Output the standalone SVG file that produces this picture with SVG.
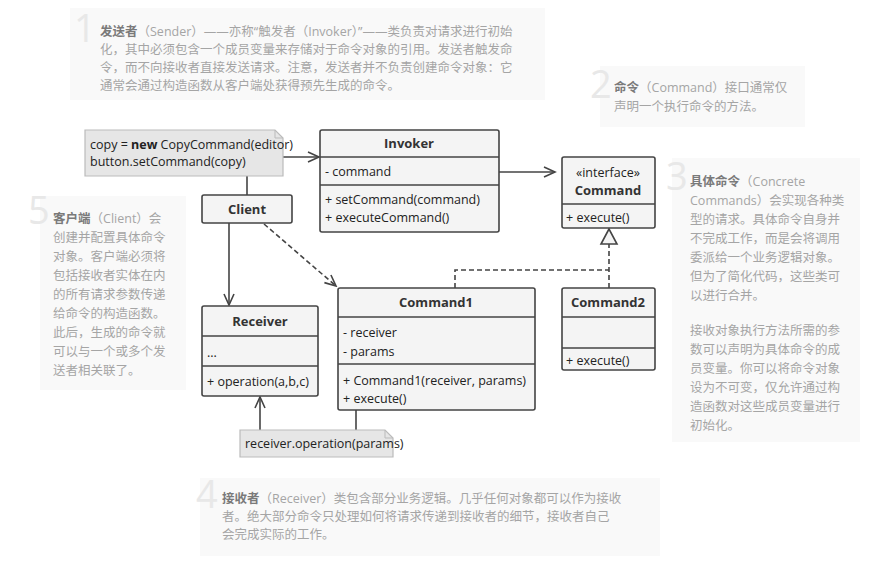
<svg xmlns="http://www.w3.org/2000/svg" width="892" height="567" viewBox="0 0 892 567">
<style>
.bg{fill:#f9f9f9}
.num{font-family:"Open Sans",sans-serif;font-size:38px;fill:#e8e8e8}
.n{font-family:"Open Sans","Noto Sans CJK SC",sans-serif;font-size:12.5px;fill:#a5a5a5}
.nb{font-weight:bold;fill:#7a7a7a}
.box{fill:#f4f4f4;stroke:#444;stroke-width:1.6}
.ln{stroke:#444;stroke-width:1.6;fill:none}
.t{font-family:"Open Sans",sans-serif;font-size:12.5px;fill:#222}
.h{font-family:"Open Sans",sans-serif;font-size:13px;font-weight:bold;fill:#333;text-anchor:middle}
.note{fill:#e6e6e6;stroke:#bbb;stroke-width:1.2}
.d{stroke-dasharray:5,3}
</style>
<defs>
<marker id="a" markerWidth="14" markerHeight="12" refX="12" refY="6" orient="auto" markerUnits="userSpaceOnUse"><path d="M1,1 L12,6 L1,11" fill="none" stroke="#444" stroke-width="1.6"/></marker>
</defs>
<g id="note1"><rect class="bg" x="70" y="8" width="475" height="92"/><text class="num" x="74" y="42">1</text>
<text class="n"><tspan x="100" y="36"><tspan class="nb">发送者</tspan>（Sender）——亦称“触发者（Invoker）”——类负责对请求进行初始</tspan><tspan x="100" y="54">化，其中必须包含一个成员变量来存储对于命令对象的引用。发送者触发命</tspan><tspan x="100" y="72">令，而不向接收者直接发送请求。注意，发送者并不负责创建命令对象：它</tspan><tspan x="100" y="90">通常会通过构造函数从客户端处获得预先生成的命令。</tspan></text></g>
<g id="note2"><rect class="bg" x="600" y="66" width="205" height="61"/><text class="num" x="590" y="98">2</text>
<text class="n"><tspan x="614" y="92"><tspan class="nb">命令</tspan>（Command）接口通常仅</tspan><tspan x="614" y="111">声明一个执行命令的方法。</tspan></text></g>
<g id="note3"><rect class="bg" x="672" y="158" width="188" height="284"/><text class="num" x="666" y="190">3</text>
<text class="n"><tspan x="690" y="186"><tspan class="nb">具体命令</tspan>（Concrete</tspan><tspan x="690" y="205">Commands）会实现各种类</tspan><tspan x="690" y="224">型的请求。具体命令自身并</tspan><tspan x="690" y="243">不完成工作，而是会将调用</tspan><tspan x="690" y="262">委派给一个业务逻辑对象。</tspan><tspan x="690" y="281">但为了简化代码，这些类可</tspan><tspan x="690" y="300">以进行合并。</tspan><tspan x="690" y="335">接收对象执行方法所需的参</tspan><tspan x="690" y="354">数可以声明为具体命令的成</tspan><tspan x="690" y="373">员变量。你可以将命令对象</tspan><tspan x="690" y="392">设为不可变，仅允许通过构</tspan><tspan x="690" y="411">造函数对这些成员变量进行</tspan><tspan x="690" y="430">初始化。</tspan></text></g>
<g id="note5"><rect class="bg" x="40" y="196" width="146" height="194"/><text class="num" x="28" y="224">5</text>
<text class="n"><tspan x="53" y="223"><tspan class="nb">客户端</tspan>（Client）会</tspan><tspan x="53" y="242">创建并配置具体命令</tspan><tspan x="53" y="261">对象。客户端必须将</tspan><tspan x="53" y="280">包括接收者实体在内</tspan><tspan x="53" y="299">的所有请求参数传递</tspan><tspan x="53" y="318">给命令的构造函数。</tspan><tspan x="53" y="337">此后，生成的命令就</tspan><tspan x="53" y="356">可以与一个或多个发</tspan><tspan x="53" y="375">送者相关联了。</tspan></text></g>
<g id="note4"><rect class="bg" x="200" y="478" width="460" height="78"/><text class="num" x="196" y="508">4</text>
<text class="n"><tspan x="222" y="503"><tspan class="nb">接收者</tspan>（Receiver）类包含部分业务逻辑。几乎任何对象都可以作为接收</tspan><tspan x="222" y="521">者。绝大部分命令只处理如何将请求传递到接收者的细节，接收者自己</tspan><tspan x="222" y="539">会完成实际的工作。</tspan></text></g>

<g id="connectors">
<line class="ln" x1="283" y1="157" x2="319" y2="157" marker-end="url(#a)"/>
<line class="ln" x1="247" y1="176" x2="247" y2="195"/>
<line class="ln" x1="499" y1="172" x2="555" y2="172" marker-end="url(#a)"/>
<line class="ln" x1="229" y1="222" x2="229" y2="305" marker-end="url(#a)"/>
<line class="ln d" x1="264" y1="224" x2="336" y2="286" marker-end="url(#a)"/>
<line class="ln" x1="356" y1="410" x2="356" y2="430"/>
<line class="ln" x1="260" y1="430" x2="260" y2="397" marker-end="url(#a)"/>
<polyline class="ln d" points="455,288 455,270 609,270"/>
<line class="ln d" x1="609" y1="288" x2="609" y2="244"/>
<path d="M609,229 L601,244 L617,244 Z" fill="#f4f4f4" stroke="#444" stroke-width="1.6"/>
</g>

<g id="copyNote"><path class="note" d="M85,130 H275 L283,138 V176 H85 Z"/><path d="M275,130 V138 H283" fill="none" stroke="#bbb"/>
<text class="t" x="90" y="149" font-size="12">copy = <tspan font-weight="bold">new</tspan> CopyCommand(editor)</text><text class="t" x="90" y="166" font-size="12">button.setCommand(copy)</text></g>
<g id="invoker"><rect class="box" x="320" y="130" width="179" height="102" rx="2"/><line class="ln" x1="320" y1="157" x2="499" y2="157"/><line class="ln" x1="320" y1="185" x2="499" y2="185"/>
<text class="h" x="409" y="148">Invoker</text><text class="t" x="325" y="176">- command</text><text class="t" x="325" y="204">+ setCommand(command)</text><text class="t" x="325" y="222">+ executeCommand()</text></g>
<g id="client"><rect class="box" x="202" y="195" width="90" height="28" rx="2"/><text class="h" x="247" y="214">Client</text></g>
<g id="command"><rect class="box" x="562" y="157" width="93" height="71" rx="2"/><line class="ln" x1="562" y1="204" x2="655" y2="204"/>
<text class="t" x="608" y="177" text-anchor="middle">«interface»</text><text class="h" x="608" y="195">Command</text><text class="t" x="566" y="222">+ execute()</text></g>
<g id="receiver"><rect class="box" x="202" y="306" width="116" height="90" rx="2"/><line class="ln" x1="202" y1="336" x2="318" y2="336"/><line class="ln" x1="202" y1="366" x2="318" y2="366"/>
<text class="h" x="260" y="326">Receiver</text><text class="t" x="207" y="357">...</text><text class="t" x="207" y="386">+ operation(a,b,c)</text></g>
<g id="command1"><rect class="box" x="338" y="288" width="197" height="122" rx="2"/><line class="ln" x1="338" y1="317" x2="535" y2="317"/><line class="ln" x1="338" y1="364" x2="535" y2="364"/>
<text class="h" x="436" y="307">Command1</text><text class="t" x="343" y="337">- receiver</text><text class="t" x="343" y="356">- params</text><text class="t" x="343" y="385">+ Command1(receiver, params)</text><text class="t" x="343" y="403">+ execute()</text></g>
<g id="command2"><rect class="box" x="562" y="288" width="93" height="82" rx="2"/><line class="ln" x1="562" y1="317" x2="655" y2="317"/><line class="ln" x1="562" y1="348" x2="655" y2="348"/>
<text class="h" x="608" y="307">Command2</text><text class="t" x="566" y="365">+ execute()</text></g>
<g id="recvNote"><path class="note" d="M240,430 H385 L393,438 V457 H240 Z"/><path d="M385,430 V438 H393" fill="none" stroke="#bbb"/>
<text class="t" x="245" y="448" font-size="12">receiver.operation(params)</text></g>
</svg>
